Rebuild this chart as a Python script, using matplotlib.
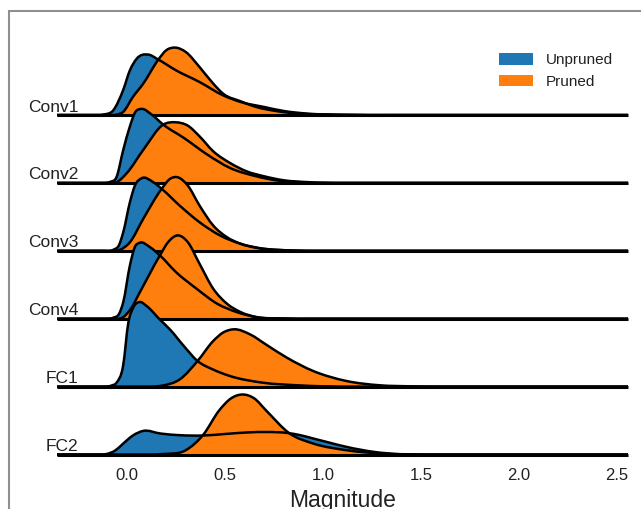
import numpy as np
import matplotlib
matplotlib.use("Agg")
import matplotlib.pyplot as plt
from matplotlib.path import Path
from matplotlib.patches import PathPatch, Patch, Rectangle

# ---------------- data (heights in arbitrary density units) ----------------
layers = ["Conv1", "Conv2", "Conv3", "Conv4", "FC1", "FC2"]
series_names = ["Unpruned", "Pruned"]
xticks = [0.0, 0.5, 1.0, 1.5, 2.0, 2.5]

conv1_unpruned_mag = [-0.15, -0.12, -0.07, -0.02, 0.015, 0.05, 0.109, 0.16, 0.25, 0.37, 0.49, 0.58, 0.70, 0.80, 0.92, 1.1, 1.4]
conv1_unpruned_den = [0, 0.5, 4.7, 24.7, 44.7, 56.4, 60.4, 55.4, 44.7, 33, 19.7, 13, 8, 4, 1.4, 0.3, 0]
conv1_pruned_mag = [-0.1, -0.05, -0.02, 0.03, 0.083, 0.16, 0.20, 0.245, 0.30, 0.37, 0.44, 0.49, 0.58, 0.66, 0.76, 0.87, 1.0, 1.3]
conv1_pruned_den = [0, 0.5, 3, 18, 31.4, 55.4, 64.7, 67.4, 63, 48, 31.4, 21.4, 13.7, 8, 4, 1.4, 0.5, 0]

conv2_unpruned_mag = [-0.12, -0.087, -0.053, -0.019, 0.015, 0.04, 0.075, 0.126, 0.185, 0.29, 0.41, 0.525, 0.66, 0.76, 0.9, 1.1]
conv2_unpruned_den = [0, 1, 6, 33, 56.6, 70, 74, 68.3, 58.3, 45, 28.3, 15, 6.6, 2.6, 0.5, 0]
conv2_pruned_mag = [-0.1, -0.05, 0.0, 0.083, 0.185, 0.25, 0.31, 0.37, 0.44, 0.525, 0.61, 0.70, 0.80, 0.92, 1.1]
conv2_pruned_den = [0, 1, 10, 33, 58.3, 60.6, 57.3, 46.6, 31.6, 20, 11.6, 6.6, 2.6, 0.8, 0]

conv3_unpruned_mag = [-0.12, -0.07, -0.04, -0.019, 0.015, 0.04, 0.075, 0.134, 0.177, 0.27, 0.37, 0.475, 0.58, 0.70, 0.85, 1.0]
conv3_unpruned_den = [0, 1, 6, 18.6, 48.6, 65, 72.6, 68.6, 62, 45, 28.6, 15.3, 7, 2, 0.3, 0]
conv3_pruned_mag = [-0.08, -0.036, 0.015, 0.083, 0.177, 0.22, 0.257, 0.31, 0.37, 0.44, 0.51, 0.58, 0.66, 0.78, 0.95]
conv3_pruned_den = [0, 1, 8.6, 32, 62, 72, 73.6, 65.3, 45.3, 25.3, 13.6, 7, 3, 0.8, 0]

conv4_unpruned_mag = [-0.12, -0.07, -0.04, -0.019, 0.015, 0.04, 0.066, 0.117, 0.168, 0.25, 0.355, 0.46, 0.56, 0.66, 0.8, 0.95]
conv4_unpruned_den = [0, 1, 5, 16.6, 53.3, 71.6, 76, 71.6, 63.3, 46.6, 30, 15, 6.6, 1.6, 0.2, 0]
conv4_pruned_mag = [-0.07, -0.02, 0.02, 0.066, 0.168, 0.21, 0.26, 0.31, 0.37, 0.44, 0.51, 0.58, 0.66, 0.8, 0.95]
conv4_pruned_den = [0, 1.5, 10, 26.6, 63.3, 76.6, 83.3, 76.6, 55, 30, 15, 6.6, 1.6, 0.2, 0]

fc1_unpruned_mag = [-0.12, -0.08, -0.053, -0.02, 0.007, 0.032, 0.066, 0.10, 0.168, 0.22, 0.29, 0.36, 0.44, 0.525, 0.69, 0.87, 1.0, 1.2]
fc1_unpruned_den = [0, 1, 4, 20.6, 64, 79, 84.6, 80.6, 67, 57, 40.6, 25.6, 17, 10.6, 4, 1.3, 0.3, 0]
fc1_pruned_mag = [0.12, 0.18, 0.27, 0.36, 0.44, 0.49, 0.546, 0.63, 0.71, 0.815, 0.95, 1.12, 1.29, 1.45, 1.6]
fc1_pruned_den = [0, 1, 7.3, 25.6, 45.6, 54, 57.3, 52, 42, 29, 15.6, 5.6, 1.3, 0.3, 0]

fc2_unpruned_mag = [-0.15, -0.104, -0.06, -0.019, 0.03, 0.083, 0.17, 0.27, 0.39, 0.5, 0.61, 0.72, 0.815, 0.88, 0.95, 1.03, 1.12, 1.26, 1.39, 1.55]
fc2_unpruned_den = [0, 0.5, 4, 11, 19, 23.6, 21, 19.3, 19, 20.5, 22, 22.5, 21.6, 19.5, 16, 12, 7.6, 2.6, 0.3, 0]
fc2_pruned_mag = [0.12, 0.185, 0.30, 0.39, 0.47, 0.53, 0.59, 0.65, 0.71, 0.83, 0.95, 1.12, 1.29, 1.45, 1.6]
fc2_pruned_den = [0, 0.5, 4.3, 20, 44, 56, 60, 56, 44, 21, 11, 4.3, 1, 0.2, 0]

curves = {
    "Conv1": [(conv1_unpruned_mag, conv1_unpruned_den), (conv1_pruned_mag, conv1_pruned_den)],
    "Conv2": [(conv2_unpruned_mag, conv2_unpruned_den), (conv2_pruned_mag, conv2_pruned_den)],
    "Conv3": [(conv3_unpruned_mag, conv3_unpruned_den), (conv3_pruned_mag, conv3_pruned_den)],
    "Conv4": [(conv4_unpruned_mag, conv4_unpruned_den), (conv4_pruned_mag, conv4_pruned_den)],
    "FC1": [(fc1_unpruned_mag, fc1_unpruned_den), (fc1_pruned_mag, fc1_pruned_den)],
    "FC2": [(fc2_unpruned_mag, fc2_unpruned_den), (fc2_pruned_mag, fc2_pruned_den)],
}

# ---------------- style ----------------
colors = ["#1f77b4", "#ff7f0e"]
text_color = "#222222"
plt.rcParams["font.family"] = ["Liberation Sans", "DejaVu Sans"]

W, H = 641, 509
fig = plt.figure(figsize=(W / 100, H / 100), dpi=100)
fig.patch.set_facecolor("white")

# grey frame (left and top edges visible)
fig.patches.append(Rectangle((9 / W, -0.1), 1.2, 1 - 11 / H + 0.1, transform=fig.transFigure,
                             fill=False, edgecolor="#8f8f8f", linewidth=1.5, zorder=0))

x_left, x_right = -0.357, 2.556
ax_left_px, ax_right_px = 57, 628
ax_top_px, ax_bot_px = 11, 460
ax = fig.add_axes([ax_left_px / W, 1 - ax_bot_px / H, (ax_right_px - ax_left_px) / W, (ax_bot_px - ax_top_px) / H])
ax.set_xlim(x_left, x_right)
fc2_base_px = 454.5
ax.set_ylim(-(ax_bot_px - fc2_base_px), fc2_base_px - ax_top_px)
ax.set_facecolor("none")
for s in ax.spines.values():
    s.set_visible(False)
ax.set_yticks([])
ax.set_xticks(xticks)
ax.set_xticklabels([f"{t:.1f}" for t in xticks])
ax.tick_params(axis="x", length=0, pad=6, labelsize=12, labelcolor=text_color)
ax.set_xlabel("Magnitude", fontsize=16.5, color=text_color, labelpad=4)

spacing = 67.9


def smooth_slopes(x, y):
    x = np.asarray(x, float)
    y = np.asarray(y, float)
    h = np.diff(x)
    d = np.diff(y) / h
    m = np.zeros_like(y)
    for i in range(1, len(x) - 1):
        m[i] = (h[i] * d[i - 1] + h[i - 1] * d[i]) / (h[i - 1] + h[i])
    return m


def curve_segments(x, y, base):
    x = np.asarray(x, float)
    y = np.asarray(y, float) + base
    m = smooth_slopes(x, y)
    verts, codes = [], []
    for i in range(len(x) - 1):
        dx = x[i + 1] - x[i]
        verts += [(x[i] + dx / 3, y[i] + m[i] * dx / 3),
                  (x[i + 1] - dx / 3, y[i + 1] - m[i + 1] * dx / 3),
                  (x[i + 1], y[i + 1])]
        codes += [Path.CURVE4] * 3
    return verts, codes


for k, name in enumerate(layers):
    base = (len(layers) - 1 - k) * spacing
    z = 10 * (k + 1)
    # fills
    for j, (mx, dy) in enumerate(curves[name]):
        segv, segc = curve_segments(mx, dy, base)
        verts = [(mx[0], base), (mx[0], base + dy[0])] + segv + [(mx[-1], base), (mx[0], base)]
        codes = [Path.MOVETO, Path.LINETO] + segc + [Path.LINETO, Path.CLOSEPOLY]
        ax.add_patch(PathPatch(Path(verts, codes), facecolor=colors[j], edgecolor="none", zorder=z + 1 + j))
    # outlines (continue along the baseline over the full range)
    for j, (mx, dy) in enumerate(curves[name]):
        segv, segc = curve_segments(mx, dy, base)
        verts = [(x_left, base), (mx[0], base + dy[0])] + segv + [(x_right, base)]
        codes = [Path.MOVETO, Path.LINETO] + segc + [Path.LINETO]
        ax.add_patch(PathPatch(Path(verts, codes), facecolor="none", edgecolor="black",
                               linewidth=1.8, zorder=z + 3 + j, capstyle="butt", joinstyle="round"))
    # baseline
    ax.plot([x_left, x_right], [base, base], color="black", linewidth=2.2, zorder=z + 6,
            solid_capstyle="butt", clip_on=False)
    # label
    ax.text(-0.247, base + 3.5, name, ha="right", va="baseline", fontsize=12.5, color=text_color, zorder=100)

handles = [Patch(facecolor=c, edgecolor="none") for c in colors]
fig.legend(handles, series_names, loc="upper left", bbox_to_anchor=(499 / W, 1 - 53 / H),
           frameon=False, fontsize=11, handlelength=2.2, handleheight=0.8, handletextpad=0.85,
           labelspacing=0.5, borderpad=0, borderaxespad=0, labelcolor=text_color)

fig.savefig("out.png", dpi=100, facecolor="white")
